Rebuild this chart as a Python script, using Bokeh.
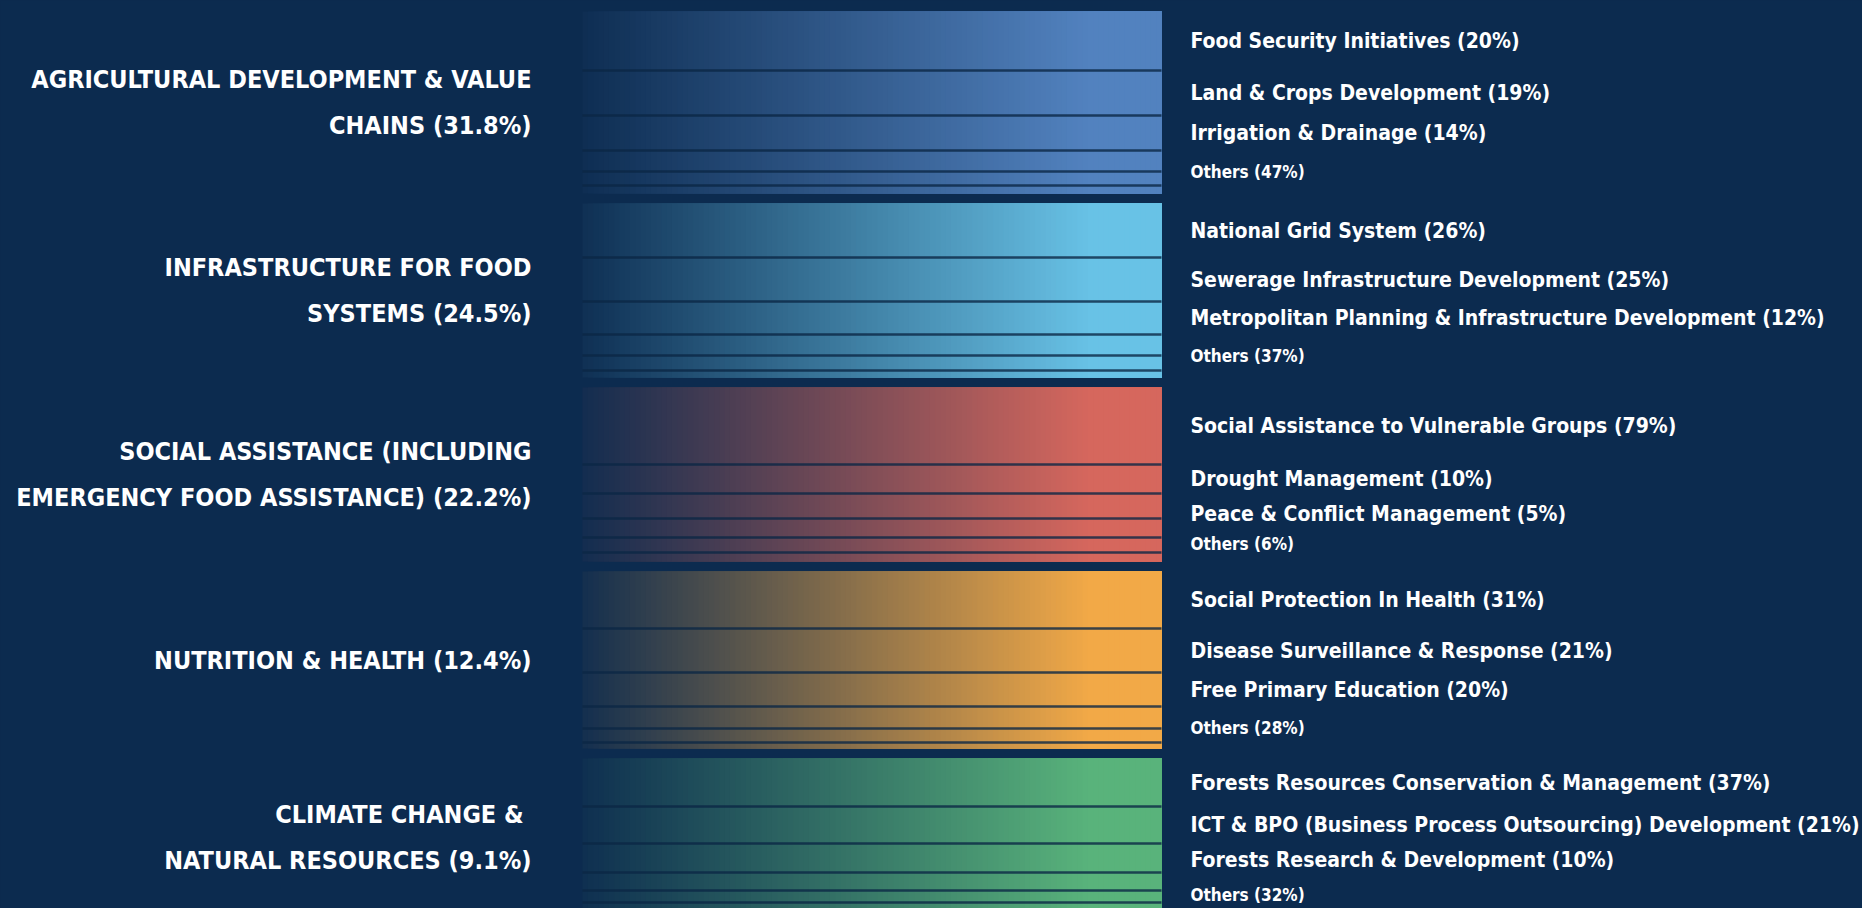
import re
from bokeh.plotting import figure
from bokeh.models import Range1d, ColumnDataSource
from bokeh.core.properties import value
from bokeh.embed import file_html
from bokeh.resources import INLINE

# ---------------- data ----------------
categories = [
    "AGRICULTURAL DEVELOPMENT & VALUE\nCHAINS (31.8%)",
    "INFRASTRUCTURE FOR FOOD\nSYSTEMS (24.5%)",
    "SOCIAL ASSISTANCE (INCLUDING\nEMERGENCY FOOD ASSISTANCE) (22.2%)",
    "NUTRITION & HEALTH (12.4%)",
    "CLIMATE CHANGE & \nNATURAL RESOURCES (9.1%)",
]
category_colors = ["#5282bf", "#68c2e6", "#d6675d", "#f2a947", "#59b37b"]

# visual flow sizes of the sub-programme links in each band
agri_flows = [59, 45, 35, 21, 14, 8]
infra_flows = [54, 44, 33, 21, 15, 7]
social_flows = [77, 29, 25, 19, 15, 9]
nutrition_flows = [57, 44, 34, 22, 14, 6]
climate_flows = [48, 37, 29, 18, 12, 8, 6]
band_flows = [agri_flows, infra_flows, social_flows, nutrition_flows, climate_flows]

agri_labels = ["Food Security Initiatives (20%)", "Land & Crops Development (19%)",
               "Irrigation & Drainage (14%)", "Others (47%)"]
infra_labels = ["National Grid System (26%)", "Sewerage Infrastructure Development (25%)",
                "Metropolitan Planning & Infrastructure Development (12%)", "Others (37%)"]
social_labels = ["Social Assistance to Vulnerable Groups (79%)", "Drought Management (10%)",
                 "Peace & Conflict Management (5%)", "Others (6%)"]
nutrition_labels = ["Social Protection In Health (31%)", "Disease Surveillance & Response (21%)",
                    "Free Primary Education (20%)", "Others (28%)"]
climate_labels = ["Forests Resources Conservation & Management (37%)",
                  "ICT & BPO (Business Process Outsourcing) Development (21%)",
                  "Forests Research & Development (10%)", "Others (32%)"]
band_labels = [agri_labels, infra_labels, social_labels, nutrition_labels, climate_labels]

# ---------------- style / layout ----------------
BG = "#0c2b4f"
FONT = value("DejaVu Sans Condensed")
W, H = 1862, 908
X0, X1 = 582, 1161          # band horizontal extent
FADE0, FADE1 = 585, 1090    # gradient ramp
TOP, GAP = 11, 10
N_SLICES = 110
MIN_GAP_MAIN, MIN_GAP_OTHER = 35, 30


def hex2rgb(h):
    h = h.lstrip("#")
    return tuple(int(h[i:i + 2], 16) for i in (0, 2, 4))


def blend(c, a):
    r1, g1, b1 = hex2rgb(c)
    r0, g0, b0 = hex2rgb(BG)
    return "#%02x%02x%02x" % (round(r0 + (r1 - r0) * a), round(g0 + (g1 - g0) * a), round(b0 + (b1 - b0) * a))


p = figure(width=W, height=H, x_range=Range1d(0, W), y_range=Range1d(H, 0),
           output_backend="svg", toolbar_location=None, min_border=0)
p.axis.visible = False
p.grid.visible = False
p.outline_line_color = None
p.background_fill_color = BG
p.border_fill_color = BG

grad = dict(left=[], right=[], top=[], bottom=[], color=[])
seg = dict(x0=[], x1=[], y=[])
lt = dict(x=[], y=[], text=[])
rt_main = dict(x=[], y=[], text=[])
rt_other = dict(x=[], y=[], text=[])

y = TOP
for cat, col, flows, labs in zip(categories, category_colors, band_flows, band_labels):
    top = y
    bottom = y + sum(flows)
    for i in range(N_SLICES):
        xl = X0 + (X1 - X0) * i / N_SLICES
        xc = X0 + (X1 - X0) * (i + 0.5) / N_SLICES
        a = 0.04 + 0.96 * min(1.0, max(0.0, (xc - FADE0) / (FADE1 - FADE0)))
        grad["left"].append(xl)
        grad["right"].append(X1)
        grad["top"].append(top)
        grad["bottom"].append(bottom)
        grad["color"].append(blend(col, a))
    # link boundaries
    acc = top
    bounds = []
    for f in flows:
        bounds.append((acc, acc + f))
        acc += f
    for b in bounds[1:]:
        seg["x0"].append(X0)
        seg["x1"].append(X1)
        seg["y"].append(b[0])
    # right labels: centred on their link, pushed apart when too close
    ys = [(bounds[k][0] + bounds[k][1]) / 2 for k in range(3)]
    ys.append((bounds[3][0] + bottom) / 2)
    for k in range(1, 4):
        g = MIN_GAP_MAIN if k < 3 else MIN_GAP_OTHER
        ys[k] = max(ys[k], ys[k - 1] + g)
    for k in range(3):
        rt_main["x"].append(1190)
        rt_main["y"].append(ys[k])
        rt_main["text"].append(labs[k])
    rt_other["x"].append(1190)
    rt_other["y"].append(ys[3])
    rt_other["text"].append(labs[3])
    # left label
    lt["x"].append(531)
    lt["y"].append((top + bottom) / 2)
    lt["text"].append(cat)
    y = bottom + GAP

p.quad(left="left", right="right", top="top", bottom="bottom", fill_color="color",
       line_color=None, source=ColumnDataSource(grad))
p.segment(x0="x0", y0="y", x1="x1", y1="y", line_color="#0b2745", line_alpha=0.8,
          line_width=2.5, source=ColumnDataSource(seg))

p.text(x="x", y="y", text="text", source=ColumnDataSource(lt), text_align="right",
       text_baseline="middle", text_font=FONT, text_font_style="bold", text_font_size="25px",
       text_color="white", text_line_height=1.58)

p.text(x="x", y="y", text="text", source=ColumnDataSource(rt_main), text_align="left",
       text_baseline="middle", text_font=FONT, text_font_style="bold", text_font_size="21px",
       text_color="white")
p.text(x="x", y="y", text="text", source=ColumnDataSource(rt_other), text_align="left",
       text_baseline="middle", text_font=FONT, text_font_style="bold", text_font_size="17px",
       text_color="white")

html = file_html(p, INLINE)
html = html.replace("</head>", "<style>html, body {background-color: %s;}</style></head>" % BG, 1)
open("out.html", "w").write(html)
